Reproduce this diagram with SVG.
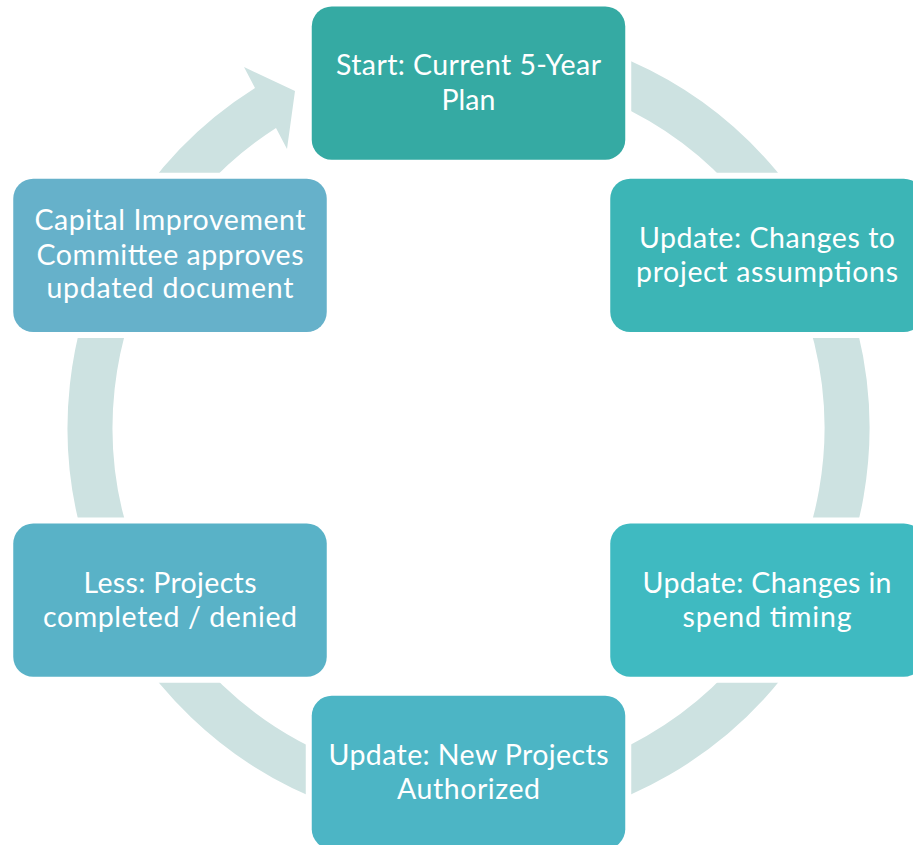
<svg xmlns="http://www.w3.org/2000/svg" width="913" height="845" viewBox="0 0 913 845">
<style>
.ring{fill:none;stroke:#CDE2E1;stroke-width:45}
.arrow{fill:#CDE2E1}
.halo{fill:#FFFFFF}
.lbl{font-family:Lato,"Open Sans","Liberation Sans",sans-serif;font-size:28.5px;fill:#FFFFFF;text-anchor:middle}
</style>
<rect width="913" height="845" fill="#FFFFFF"/>
<g id="connectors">
<path class="ring" d="M 468.5 49.3 A 378.5 378.5 0 1 1 140.7 238.6"/>
<path class="arrow" d="M 121.2 227.3 A 401 401 0 0 1 255 88 L 244 67 L 295 91 L 287 149 L 276 128 A 356 356 0 0 0 160.2 249.8 Z"/>
</g>
<g id="node-start">
<rect class="halo" x="305.75" y="0.4" width="325.5" height="165.3" rx="26"/>
<rect x="311.75" y="6.4" width="313.5" height="153.3" rx="20" fill="#35AAA3"/>
<text class="lbl" x="468.5" y="75.3" textLength="265" lengthAdjust="spacing">Start: Current 5-Year</text>
<text class="lbl" x="468.5" y="110" textLength="54" lengthAdjust="spacing">Plan</text>
</g>
<g id="node-assumptions">
<rect class="halo" x="604.25" y="172.75" width="325.5" height="165.3" rx="26"/>
<rect x="610.25" y="178.75" width="313.5" height="153.3" rx="20" fill="#3CB5B6"/>
<text class="lbl" x="767" y="247.7" textLength="256" lengthAdjust="spacing">Update: Changes to</text>
<text class="lbl" x="767" y="282.2" textLength="262" lengthAdjust="spacing">project assumptions</text>
</g>
<g id="node-timing">
<rect class="halo" x="604.25" y="517.55" width="325.5" height="165.3" rx="26"/>
<rect x="610.25" y="523.55" width="313.5" height="153.3" rx="20" fill="#3FBAC1"/>
<text class="lbl" x="767" y="592.5" textLength="249" lengthAdjust="spacing">Update: Changes in</text>
<text class="lbl" x="767" y="627" textLength="169" lengthAdjust="spacing">spend timing</text>
</g>
<g id="node-new">
<rect class="halo" x="305.75" y="689.85" width="325.5" height="165.3" rx="26"/>
<rect x="311.75" y="695.85" width="313.5" height="153.3" rx="20" fill="#4CB5C5"/>
<text class="lbl" x="468.5" y="764.7" textLength="280" lengthAdjust="spacing">Update: New Projects</text>
<text class="lbl" x="468.5" y="799.2" textLength="143" lengthAdjust="spacing">Authorized</text>
</g>
<g id="node-less">
<rect class="halo" x="7.25" y="517.55" width="325.5" height="165.3" rx="26"/>
<rect x="13.25" y="523.55" width="313.5" height="153.3" rx="20" fill="#59B2C7"/>
<text class="lbl" x="170" y="592.5" textLength="173" lengthAdjust="spacing">Less: Projects</text>
<text class="lbl" x="170" y="627" textLength="254" lengthAdjust="spacing">completed / denied</text>
</g>
<g id="node-committee">
<rect class="halo" x="7.25" y="172.75" width="325.5" height="165.3" rx="26"/>
<rect x="13.25" y="178.75" width="313.5" height="153.3" rx="20" fill="#66B1CA"/>
<text class="lbl" x="170" y="230.4" textLength="271" lengthAdjust="spacing">Capital Improvement</text>
<text class="lbl" x="170" y="264.9" textLength="267" lengthAdjust="spacing">Committee approves</text>
<text class="lbl" x="170" y="298.4" textLength="247" lengthAdjust="spacing">updated document</text>
</g>
</svg>
